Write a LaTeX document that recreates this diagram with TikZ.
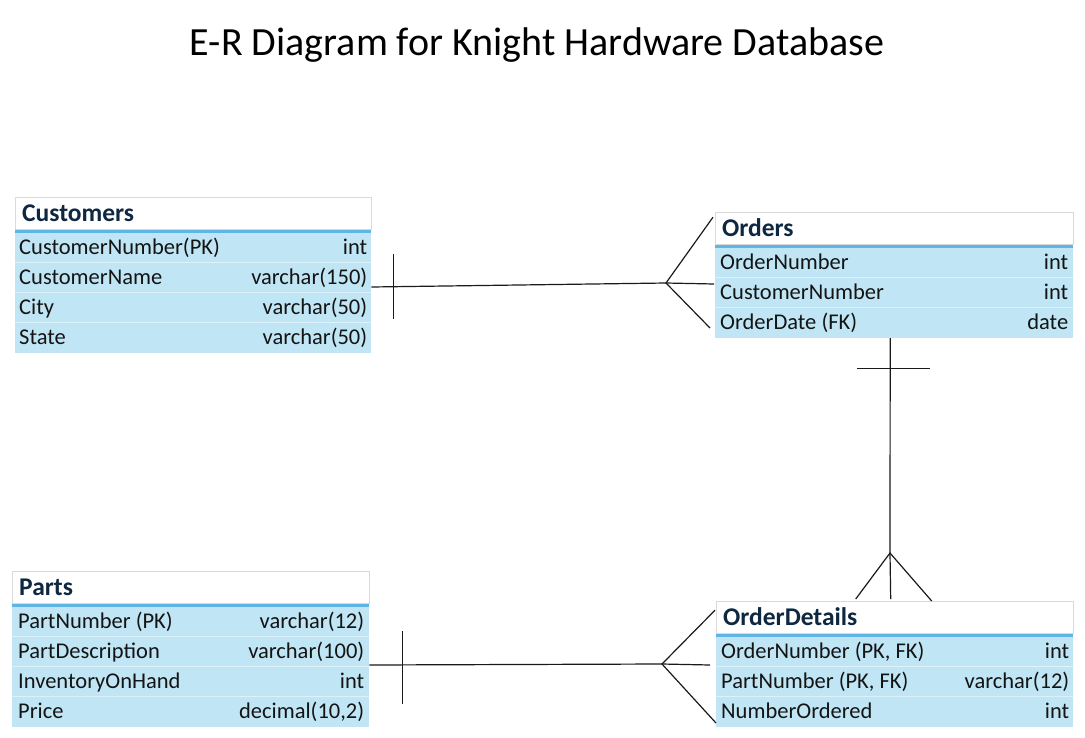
\documentclass[tikz,border=0pt]{standalone}
\usepackage{fontspec}
\setmainfont{Carlito}
\usetikzlibrary{positioning}
\definecolor{rowblue}{HTML}{C0E6F5}
\definecolor{bandblue}{HTML}{61B5E4}
\definecolor{headnavy}{HTML}{0E2841}
\definecolor{gridgray}{HTML}{D9D9D9}
\definecolor{linegray}{HTML}{1A1A1A}
\tikzset{
  tablehead/.style={draw=gridgray, fill=white, minimum height=32pt, inner sep=0pt, anchor=north west},
  band/.style={fill=bandblue, minimum height=3pt, inner sep=0pt, anchor=north west},
  tablebody/.style={fill=rowblue, inner sep=0pt, anchor=north west},
  headtext/.style={font=\fontsize{25.5}{28}\selectfont\bfseries, text=headnavy, anchor=west, inner sep=0pt, text height=16pt, text depth=0pt},
  fieldtext/.style={font=\fontsize{22.5}{24}\selectfont, text=black!92, anchor=west, inner sep=0pt, text height=14pt, text depth=0pt},
  typetext/.style={fieldtext, anchor=east},
  rowline/.style={draw=white!45!rowblue, line width=0.8pt},
  rel/.style={draw=linegray, line width=1.2pt}
}
\begin{document}
\begin{tikzpicture}[x=1pt, y=-1pt]
  \fill[white] (0,0) rectangle (1085,737);
  \useasboundingbox (0,0) rectangle (1085,737);

  \node[font=\fontsize{40}{44}\selectfont] (title) at (537,45) {E-R Diagram for Knight Hardware Database};

  % Customers
  \node[tablehead, minimum width=356pt] (custhead) at (15,197) {};
  \node[headtext] (custname) at ([xshift=7pt]custhead.west) {Customers};
  \node[band, minimum width=356pt] (custband) at (custhead.south west) {};
  \node[tablebody, minimum width=356pt, minimum height=120pt] (custbody) at (custband.south west) {};
  \foreach \k in {1,2,3}
    \draw[rowline] ([yshift=-30pt*\k]custbody.north west) -- ([yshift=-30pt*\k]custbody.north east);
  \foreach \fname/\ftype [count=\i] in {CustomerNumber(PK)/int, CustomerName/varchar(150), City/varchar(50), State/varchar(50)} {
    \node[fieldtext] (custf\i) at ([xshift=4pt, yshift={(15-30*\i)*1pt}]custbody.north west) {\fname};
    \node[typetext] (custt\i) at ([xshift=-4pt, yshift={(15-30*\i)*1pt}]custbody.north east) {\ftype};
  }

  % Orders
  \node[tablehead, minimum width=358pt] (ordhead) at (715,212) {};
  \node[headtext] (ordname) at ([xshift=7pt]ordhead.west) {Orders};
  \node[band, minimum width=358pt] (ordband) at (ordhead.south west) {};
  \node[tablebody, minimum width=358pt, minimum height=90pt] (ordbody) at (ordband.south west) {};
  \foreach \k in {1,2}
    \draw[rowline] ([yshift=-30pt*\k]ordbody.north west) -- ([yshift=-30pt*\k]ordbody.north east);
  \foreach \fname/\ftype [count=\i] in {OrderNumber/int, CustomerNumber/int, OrderDate (FK)/date} {
    \node[fieldtext] (ordf\i) at ([xshift=5pt, yshift={(15-30*\i)*1pt}]ordbody.north west) {\fname};
    \node[typetext] (ordt\i) at ([xshift=-5pt, yshift={(15-30*\i)*1pt}]ordbody.north east) {\ftype};
  }

  % Parts
  \node[tablehead, minimum width=357pt] (parthead) at (12,571) {};
  \node[headtext] (partname) at ([xshift=7pt]parthead.west) {Parts};
  \node[band, minimum width=357pt] (partband) at (parthead.south west) {};
  \node[tablebody, minimum width=357pt, minimum height=120pt] (partbody) at (partband.south west) {};
  \foreach \k in {1,2,3}
    \draw[rowline] ([yshift=-30pt*\k]partbody.north west) -- ([yshift=-30pt*\k]partbody.north east);
  \foreach \fname/\ftype [count=\i] in {PartNumber (PK)/varchar(12), PartDescription/varchar(100), InventoryOnHand/int, Price/{decimal(10,2)}} {
    \node[fieldtext] (partf\i) at ([xshift=6pt, yshift={(15-30*\i)*1pt}]partbody.north west) {\fname};
    \node[typetext] (partt\i) at ([xshift=-5pt, yshift={(15-30*\i)*1pt}]partbody.north east) {\ftype};
  }

  % OrderDetails
  \node[tablehead, minimum width=357pt] (odhead) at (716,601) {};
  \node[headtext] (odname) at ([xshift=7pt]odhead.west) {OrderDetails};
  \node[band, minimum width=357pt] (odband) at (odhead.south west) {};
  \node[tablebody, minimum width=357pt, minimum height=90pt] (odbody) at (odband.south west) {};
  \foreach \k in {1,2}
    \draw[rowline] ([yshift=-30pt*\k]odbody.north west) -- ([yshift=-30pt*\k]odbody.north east);
  \foreach \fname/\ftype [count=\i] in {{OrderNumber (PK, FK)}/int, {PartNumber (PK, FK)}/varchar(12), NumberOrdered/int} {
    \node[fieldtext] (odf\i) at ([xshift=5pt, yshift={(15-30*\i)*1pt}]odbody.north west) {\fname};
    \node[typetext] (odt\i) at ([xshift=-4pt, yshift={(15-30*\i)*1pt}]odbody.north east) {\ftype};
  }

  % Customers -- Orders
  \coordinate (cofoot) at (666,283);
  \draw[rel] ([yshift=6pt]custbody.east) -- (cofoot);
  \draw[rel] ([xshift=22pt,yshift=39pt]custbody.east) -- ([xshift=22pt,yshift=-26pt]custbody.east);
  \draw[rel] ([xshift=-2pt,yshift=11pt]ordhead.west) -- (cofoot) -- ([xshift=-5pt,yshift=-35pt]ordbody.west);
  \draw[rel] (cofoot) -- ([xshift=-1pt,yshift=9pt]ordbody.west);

  % Orders -- OrderDetails
  \coordinate (odfoot) at (890,553);
  \draw[rel] ([xshift=-4pt]ordbody.south) -- (odfoot);
  \draw[rel] ([xshift=-37pt,yshift=-30pt]ordbody.south) -- ([xshift=36pt,yshift=-30pt]ordbody.south);
  \draw[rel] ([xshift=-39pt,yshift=2pt]odhead.north) -- (odfoot) -- ([xshift=37pt]odhead.north);
  \draw[rel] (odfoot) -- ([xshift=-4pt,yshift=2pt]odhead.north);

  % Parts -- OrderDetails
  \coordinate (pdfoot) at (662,664);
  \draw[rel] ([yshift=2pt]partbody.east) -- (pdfoot);
  \draw[rel] ([xshift=33pt,yshift=36pt]partbody.east) -- ([xshift=33pt,yshift=-37pt]partbody.east);
  \draw[rel] ([xshift=-1pt,yshift=7pt]odhead.west) -- (pdfoot) -- ([yshift=-41pt]odbody.west);
  \draw[rel] (pdfoot) -- ([xshift=-6pt,yshift=17pt]odbody.west);
\end{tikzpicture}
\end{document}
